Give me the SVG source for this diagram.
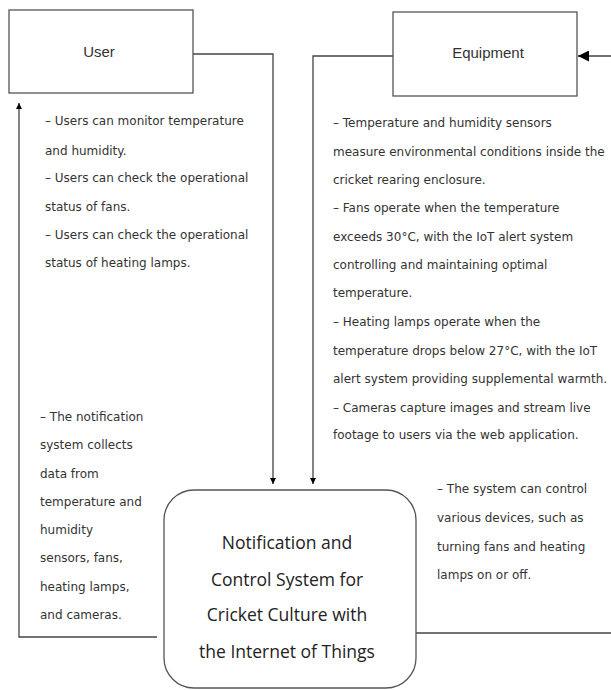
<svg xmlns="http://www.w3.org/2000/svg" width="611" height="690" viewBox="0 0 611 690">
<defs>
<marker id="ah" viewBox="0 0 10 10" refX="10" refY="5" markerWidth="6" markerHeight="6" orient="auto" markerUnits="userSpaceOnUse">
<path d="M0,0 L10,5 L0,10 z" fill="#000"/>
</marker>
<marker id="ahBig" viewBox="0 0 10 10" refX="10" refY="5" markerWidth="11" markerHeight="11" orient="auto" markerUnits="userSpaceOnUse">
<path d="M0,0 L10,5 L0,10 z" fill="#000"/>
</marker>
</defs>
<style>
.box{fill:#fff;stroke:#555;stroke-width:1.3}
.title{font-family:"Liberation Sans",Arial,sans-serif;font-size:15px;fill:#333;text-anchor:middle}
.note{font-family:"DejaVu Sans","Liberation Sans",sans-serif;font-size:12px;fill:#333}
.main{font-family:"Open Sans","Liberation Sans",sans-serif;font-size:17.5px;fill:#222;text-anchor:middle}
.conn{fill:none;stroke:#444;stroke-width:1.3}
</style>
<rect width="611" height="690" fill="#fff"/>
<g id="connectors">
<polyline class="conn" points="193,54 273,54 273,484" marker-end="url(#ah)"/>
<polyline class="conn" points="393,56 313,56 313,484" marker-end="url(#ah)"/>
<line class="conn" x1="611" y1="56" x2="578" y2="56" stroke="#000" marker-end="url(#ahBig)"/>
<polyline class="conn" points="157,637 19,637 19,103" marker-end="url(#ah)"/>
<line class="conn" x1="416" y1="633" x2="611" y2="633" stroke="#000"/>
</g>
<g id="user">
<rect class="box" x="9" y="10" width="184" height="83"/>
<text class="title" x="99" y="57">User</text>
</g>
<g id="equipment">
<rect class="box" x="393" y="12" width="184" height="84"/>
<text class="title" x="488" y="58">Equipment</text>
</g>
<g id="system">
<rect class="box" x="164" y="490" width="252" height="198" rx="30" ry="30"/>
<text class="main" x="287" y="549">Notification and</text>
<text class="main" x="287" y="586">Control System for</text>
<text class="main" x="287" y="621">Cricket Culture with</text>
<text class="main" x="287" y="658">the Internet of Things</text>
</g>
<g id="user-notes" class="note">
<text x="45" y="125">– Users can monitor temperature</text>
<text x="45" y="155">and humidity.</text>
<text x="45" y="182">– Users can check the operational</text>
<text x="45" y="211">status of fans.</text>
<text x="45" y="239">– Users can check the operational</text>
<text x="45" y="267">status of heating lamps.</text>
</g>
<g id="equipment-notes" class="note">
<text x="333" y="127">– Temperature and humidity sensors</text>
<text x="333" y="156">measure environmental conditions inside the</text>
<text x="333" y="184">cricket rearing enclosure.</text>
<text x="333" y="212">– Fans operate when the temperature</text>
<text x="333" y="241">exceeds 30°C, with the IoT alert system</text>
<text x="333" y="269">controlling and maintaining optimal</text>
<text x="333" y="297">temperature.</text>
<text x="333" y="326">– Heating lamps operate when the</text>
<text x="333" y="355">temperature drops below 27°C, with the IoT</text>
<text x="333" y="383">alert system providing supplemental warmth.</text>
<text x="333" y="412">– Cameras capture images and stream live</text>
<text x="333" y="439">footage to users via the web application.</text>
</g>
<g id="notification-notes" class="note">
<text x="40" y="421">– The notification</text>
<text x="40" y="449">system collects</text>
<text x="40" y="478">data from</text>
<text x="40" y="506">temperature and</text>
<text x="40" y="534">humidity</text>
<text x="40" y="562">sensors, fans,</text>
<text x="40" y="591">heating lamps,</text>
<text x="40" y="619">and cameras.</text>
</g>
<g id="control-notes" class="note">
<text x="437" y="493">– The system can control</text>
<text x="437" y="522">various devices, such as</text>
<text x="437" y="551">turning fans and heating</text>
<text x="437" y="579">lamps on or off.</text>
</g>
</svg>
